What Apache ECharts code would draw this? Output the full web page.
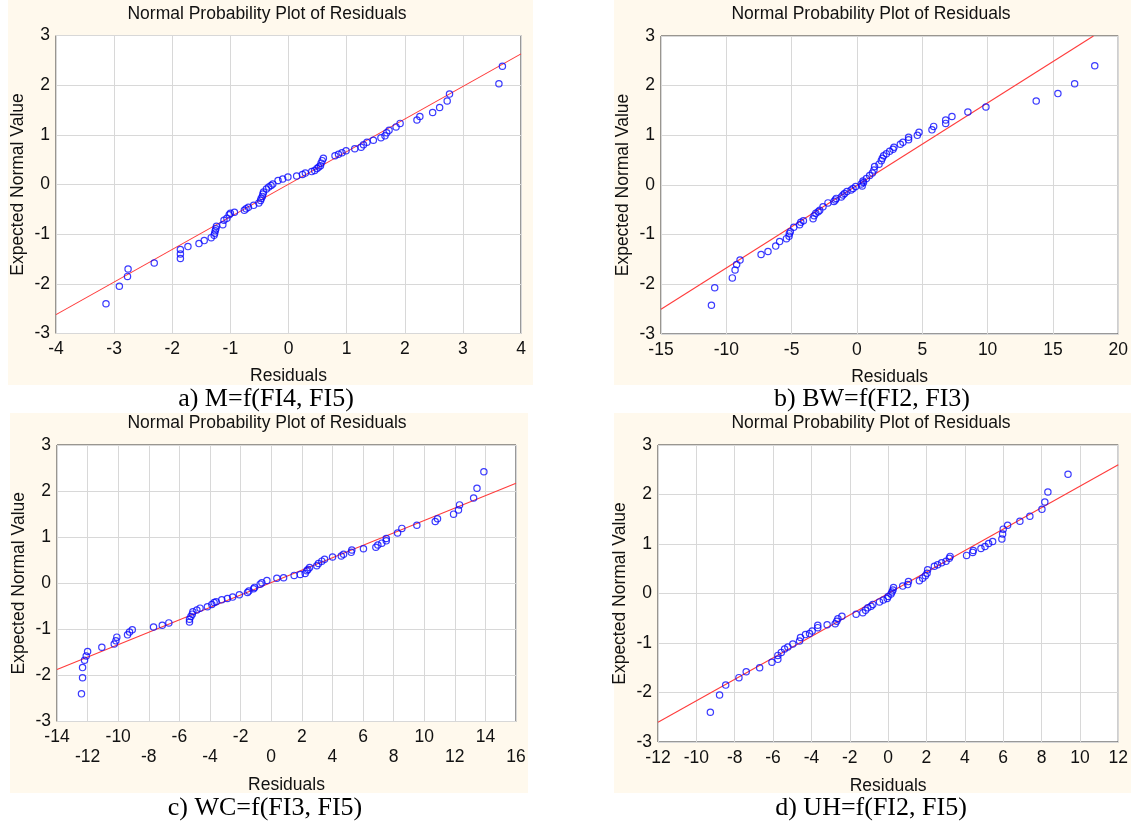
<!DOCTYPE html>
<html>
<head>
<meta charset="utf-8">
<script src="https://cdn.jsdelivr.net/npm/echarts@6/dist/echarts.min.js"></script>
<style>
html,body{margin:0;padding:0;background:#fff;}
#c{width:1131px;height:825px;}
</style>
</head>
<body>
<div id="c"></div>
<script>
// ---- Data ----
const titleText = 'Normal Probability Plot of Residuals';
const captions = ['a) M=f(FI4, FI5)', 'b) BW=f(FI2, FI3)', 'c) WC=f(FI3, FI5)', 'd) UH=f(FI2, FI5)'];
const xAxisName = 'Residuals';
const yAxisName = 'Expected Normal Value';

// x-axis ranges per panel [min, max, interval]
const xRanges = [[-4, 4, 1], [-15, 20, 5], [-14, 16, 2], [-12, 12, 2]];
const yRange = [-3, 3, 1];

// panel a: residual, expected normal value
const aPts = [
[-3.14,-2.40],[-2.91,-2.05],[-2.77,-1.85],[-2.76,-1.70],[-2.31,-1.58],
[-1.86,-1.49],[-1.86,-1.40],[-1.86,-1.31],[-1.73,-1.25],[-1.54,-1.19],[-1.45,-1.13],[-1.33,-1.07],
[-1.28,-1.02],[-1.27,-0.98],[-1.26,-0.93],[-1.25,-0.89],[-1.24,-0.84],
[-1.13,-0.81],[-1.11,-0.72],[-1.06,-0.68],[-1.02,-0.61],[-1.00,-0.58],[-0.93,-0.56],
[-0.76,-0.52],[-0.73,-0.49],[-0.69,-0.46],[-0.60,-0.42],
[-0.51,-0.37],[-0.48,-0.32],[-0.47,-0.28],[-0.45,-0.24],[-0.44,-0.19],[-0.43,-0.15],
[-0.38,-0.09],[-0.34,-0.05],[-0.30,-0.02],[-0.27,0.01],[-0.18,0.08],[-0.10,0.11],[-0.01,0.15],
[0.14,0.17],[0.24,0.20],[0.29,0.23],[0.40,0.26],[0.45,0.28],[0.49,0.32],[0.52,0.35],
[0.55,0.38],[0.56,0.43],[0.58,0.48],[0.60,0.53],
[0.80,0.58],[0.86,0.61],[0.92,0.64],[0.99,0.68],
[1.14,0.72],[1.25,0.75],[1.29,0.80],[1.35,0.85],
[1.46,0.89],[1.59,0.94],[1.66,0.98],[1.69,1.04],[1.73,1.09],
[1.85,1.16],[1.92,1.23],[2.21,1.30],[2.26,1.37],
[2.48,1.45],[2.60,1.55],[2.73,1.68],[2.77,1.82],[3.62,2.03],[3.68,2.38]
];
// panel b
const bPts = [
[-11.14,-2.42],[-10.89,-2.07],[-9.54,-1.87],[-9.33,-1.71],[-9.21,-1.60],[-8.95,-1.51],
[-7.34,-1.40],[-6.81,-1.34],[-6.22,-1.23],[-5.92,-1.14],[-5.40,-1.08],
[-5.20,-1.03],[-5.18,-0.98],[-5.10,-0.94],
[-4.84,-0.85],[-4.39,-0.80],[-4.30,-0.75],[-4.10,-0.72],
[-3.36,-0.68],[-3.28,-0.62],[-3.15,-0.57],[-2.97,-0.54],[-2.85,-0.51],
[-2.60,-0.44],[-2.22,-0.36],[-1.76,-0.33],[-1.66,-0.30],[-1.59,-0.27],
[-1.20,-0.24],[-1.07,-0.20],[-0.95,-0.17],[-0.77,-0.13],
[-0.45,-0.10],[-0.30,-0.07],[-0.10,-0.03],[0.40,-0.02],[0.33,0.02],[0.50,0.05],[0.46,0.08],
[0.72,0.13],[0.97,0.19],[1.18,0.24],[1.30,0.30],[1.35,0.37],[1.69,0.42],[1.86,0.49],[1.94,0.54],
[2.04,0.59],[2.25,0.63],[2.50,0.68],[2.76,0.72],[2.83,0.76],[3.32,0.82],[3.52,0.86],[3.95,0.91],
[3.95,0.96],[4.62,1.00],[4.75,1.06],[5.74,1.11],[5.87,1.18],[6.79,1.24],[6.79,1.31],[7.27,1.38],
[8.49,1.47],[9.87,1.57],[13.72,1.69],[15.38,1.84],[16.66,2.04],[18.2,2.40]
];
// panel c
const cPts = [
[-12.40,-2.40],[-12.33,-2.05],[-12.33,-1.83],[-12.20,-1.67],[-12.09,-1.58],[-12.00,-1.48],
[-11.07,-1.39],[-10.26,-1.32],[-10.15,-1.25],[-10.09,-1.17],[-9.39,-1.12],[-9.26,-1.06],[-9.08,-1.01],
[-7.69,-0.95],[-7.12,-0.91],[-6.69,-0.86],
[-5.34,-0.84],[-5.34,-0.78],[-5.25,-0.72],[-5.16,-0.67],[-5.12,-0.62],[-4.86,-0.58],[-4.65,-0.54],
[-4.17,-0.51],[-3.88,-0.46],[-3.73,-0.42],[-3.60,-0.40],[-3.23,-0.36],[-2.86,-0.33],[-2.52,-0.30],[-2.08,-0.25],
[-1.55,-0.20],[-1.46,-0.17],[-1.15,-0.12],[-1.09,-0.09],[-0.72,-0.02],[-0.61,0.01],[-0.28,0.06],
[0.37,0.11],[0.81,0.12],[1.50,0.17],[1.90,0.19],[2.22,0.21],[2.33,0.27],[2.40,0.30],[2.51,0.34],
[2.98,0.38],[3.09,0.43],[3.31,0.48],[3.49,0.52],[4.01,0.57],[4.58,0.59],[4.73,0.63],[5.23,0.67],[5.27,0.72],
[6.03,0.75],[6.84,0.78],[6.97,0.83],[7.23,0.87],[7.52,0.92],[7.52,0.97],[8.26,1.09],[8.54,1.19],[9.52,1.26],
[10.72,1.34],[10.87,1.40],[11.92,1.50],[12.24,1.59],[12.31,1.70],[13.23,1.85],[13.45,2.06],[13.90,2.42]
];
// panel d
const dPts = [
[-9.27,-2.40],[-8.79,-2.05],[-8.47,-1.85],[-7.78,-1.70],[-7.40,-1.58],[-6.70,-1.50],[-6.06,-1.39],
[-5.75,-1.33],[-5.75,-1.25],[-5.57,-1.19],[-5.40,-1.12],[-5.23,-1.08],[-4.97,-1.02],
[-4.62,-0.96],[-4.57,-0.89],[-4.31,-0.83],[-4.10,-0.81],[-3.96,-0.76],[-3.67,-0.69],[-3.67,-0.64],
[-3.18,-0.63],[-2.76,-0.61],[-2.68,-0.56],[-2.62,-0.51],[-2.41,-0.46],[-1.67,-0.42],
[-1.32,-0.39],[-1.18,-0.34],[-1.06,-0.29],[-0.89,-0.26],[-0.80,-0.22],
[-0.45,-0.17],[-0.25,-0.13],[-0.05,-0.10],[0.00,-0.06],[0.15,-0.01],[0.20,0.03],[0.25,0.07],[0.28,0.12],
[0.76,0.15],[1.02,0.18],[1.06,0.24],[1.63,0.26],[1.80,0.31],[1.94,0.36],[2.03,0.41],[2.06,0.48],
[2.41,0.55],[2.58,0.58],[2.79,0.62],[3.02,0.65],[3.19,0.71],[3.23,0.75],
[4.09,0.77],[4.41,0.83],[4.44,0.87],[4.84,0.91],[5.05,0.95],[5.24,1.01],[5.45,1.05],
[5.93,1.10],[5.97,1.20],[6.00,1.30],[6.23,1.38],[6.87,1.46],[7.39,1.56],[8.02,1.70],[8.17,1.85],[8.33,2.05],[9.38,2.41]
];
// fitted reference lines (end points)
const aLine = [[-4, -2.62], [4, 2.63]];
const bLine = [[-15, -2.50], [18.1, 3.00]];
const cLine = [[-14, -1.87], [16, 2.17]];
const dLine = [[-12, -2.60], [12, 2.60]];

const points = [aPts, bPts, cPts, dPts];
const lines = [aLine, bLine, cLine, dLine];

// ---- layout / style ----
const SANS = '"Liberation Sans", Arial, sans-serif';
const SERIF = '"Liberation Serif", "Times New Roman", serif';
const grids = [
  {left: 56, top: 35.5, width: 465, height: 298},
  {left: 661, top: 36, width: 458, height: 298},
  {left: 57, top: 445, width: 459, height: 276.5},
  {left: 658, top: 445, width: 462, height: 297}
];
const panels = [
  {x: 8, y: 0, w: 525, h: 385},
  {x: 614, y: 0, w: 517, h: 385},
  {x: 10, y: 413, w: 518, h: 380},
  {x: 614, y: 413, w: 517, h: 380}
];
const titlePos = [[267, 14], [871, 14], [267, 423], [871, 423]];
const capPos = [[266, 399], [872, 399], [265, 808], [871, 808]];
const xNameGap = [34, 34, 55, 35];

const graphic = [];
panels.forEach(p => graphic.push({type: 'rect', z: -10, shape: {x: p.x, y: p.y, width: p.w, height: p.h}, style: {fill: '#fff9ed'}}));
titlePos.forEach(t => graphic.push({type: 'text', x: t[0], y: t[1], style: {text: titleText, align: 'center', verticalAlign: 'middle', font: '17.5px ' + SANS, fill: '#111'}}));
capPos.forEach((t, i) => graphic.push({type: 'text', x: t[0], y: t[1], style: {text: captions[i], align: 'center', verticalAlign: 'middle', font: '26px ' + SERIF, fill: '#000'}}));

const gridOpts = grids.map(g => Object.assign({show: true, backgroundColor: '#fff', borderColor: '#333', borderWidth: 1, containLabel: false}, g));

const xAxes = xRanges.map((r, i) => ({
  type: 'value', gridIndex: i, min: r[0], max: r[1], interval: r[2],
  name: xAxisName, nameLocation: 'middle', nameGap: xNameGap[i],
  nameTextStyle: {fontSize: 17.5, fontFamily: SANS, color: '#111'},
  axisLine: {show: false}, axisTick: {show: false},
  splitLine: {show: true, lineStyle: {color: '#d8d8d8', width: 1}},
  axisLabel: {
    fontSize: 17.5, fontFamily: SANS, color: '#111', margin: 6, lineHeight: 20,
    formatter: i === 2 ? (v => (Math.round((v - r[0]) / r[2]) % 2 === 0 ? String(v) : '\n' + v)) : (v => String(v))
  }
}));
const yAxes = grids.map((g, i) => ({
  type: 'value', gridIndex: i, min: yRange[0], max: yRange[1], interval: yRange[2],
  name: yAxisName, nameLocation: 'middle', nameGap: 28.5, nameRotate: 90,
  nameTextStyle: {fontSize: 17.5, fontFamily: SANS, color: '#111'},
  axisLine: {show: false}, axisTick: {show: false},
  splitLine: {show: true, lineStyle: {color: '#d8d8d8', width: 1}},
  axisLabel: {fontSize: 17.5, fontFamily: SANS, color: '#111', margin: 6}
}));

const series = [];
points.forEach((pts, i) => {
  series.push({
    type: 'line', xAxisIndex: i, yAxisIndex: i, data: lines[i], symbol: 'none', clip: true,
    lineStyle: {color: '#ff3c3c', width: 1.1}, z: 2, silent: true
  });
  series.push({
    type: 'scatter', xAxisIndex: i, yAxisIndex: i, data: pts, symbol: 'circle', symbolSize: 6.3,
    itemStyle: {color: 'rgba(0,0,0,0)', borderColor: '#0a0aff', borderWidth: 1.2}, z: 3, silent: true
  });
});

const chart = echarts.init(document.getElementById('c'), null, {renderer: 'canvas'});
chart.setOption({
  animation: false,
  backgroundColor: '#fff',
  grid: gridOpts,
  xAxis: xAxes,
  yAxis: yAxes,
  series: series,
  graphic: graphic
});
</script>
</body>
</html>
